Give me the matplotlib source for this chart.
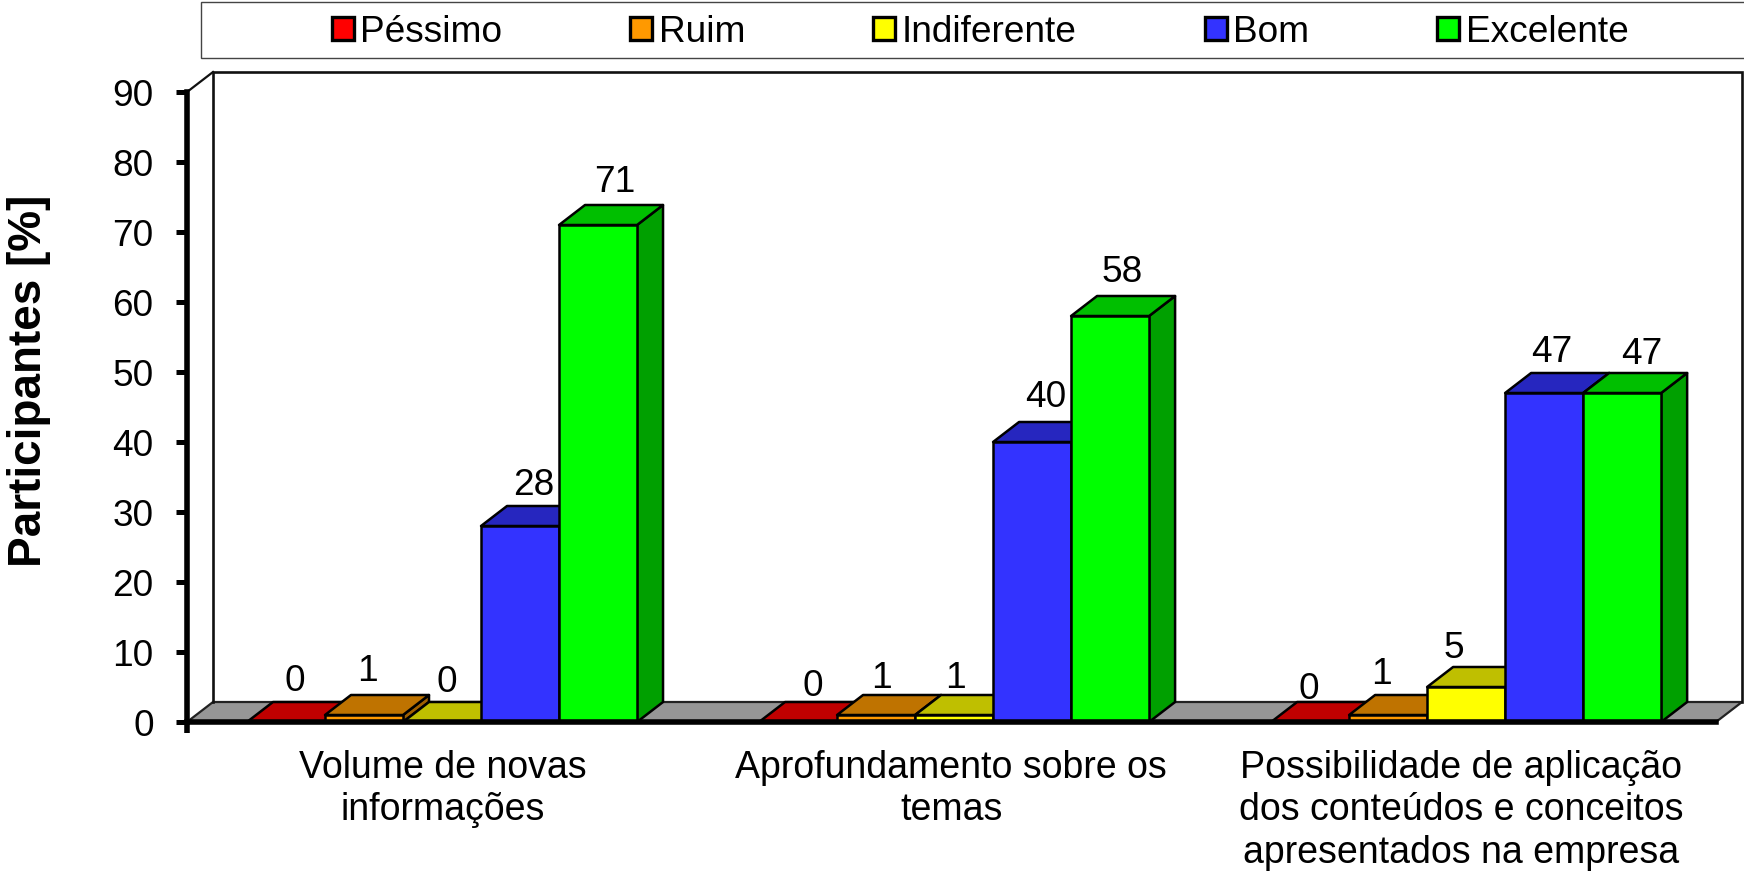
import matplotlib
matplotlib.use("Agg")
import matplotlib.pyplot as plt
from matplotlib.patches import Polygon, Patch, Rectangle
from matplotlib.transforms import ScaledTranslation

categories = ["Volume de novas\ninformações",
              "Aprofundamento sobre os\ntemas",
              "Possibilidade de aplicação\ndos conteúdos e conceitos\napresentados na empresa"]
series_names = ["Péssimo", "Ruim", "Indiferente", "Bom", "Excelente"]
pessimo = [0, 0, 0]
ruim = [1, 1, 1]
indiferente = [0, 1, 5]
bom = [28, 40, 47]
excelente = [71, 58, 47]
y_ticks = [0, 10, 20, 30, 40, 50, 60, 70, 80, 90]
y_label = "Participantes [%]"

# Styles
front_cols = ["#FF0000", "#FF9900", "#FFFF00", "#3333FF", "#00FF00"]
top_cols = ["#C00000", "#BF7300", "#BFBF00", "#2626BF", "#00BF00"]
side_cols = ["#A00000", "#A06000", "#A0A000", "#2020A0", "#00A000"]
label_shift_x = [[-4, -10, -8, 1, 4], [2, -8, -12, 1, -1], [-14, -20, -25, -5, 7]]
label_shift_y = [[-2, 1, -3, -2, 0], [-7, -6, -6, 2, 1], [-10, -2, -4, -2, -4]]
category_shift_x = [1, -2.7, -5]

FW, FH = 1744, 871
plt.rcParams["font.family"] = ["Liberation Sans", "DejaVu Sans"]
FS = 26.64
PX = 0.72

fig = plt.figure(figsize=(FW / 100, FH / 100), dpi=100, facecolor="white")
ax = fig.add_axes([187 / FW, (FH - 722) / FH, 1529 / FW, 630 / FH])
ax.set_facecolor("none")
ax.set_xlim(-0.498, 2.488)
ax.set_ylim(0, 90)

bar_w = 78 / 512
dx = 26 / 512
dy = 20 / 7
x_left, x_right = ax.get_xlim()
y_max = ax.get_ylim()[1]

def poly(pts, fc, z, lw=1.8, ec="black"):
    ax.add_patch(Polygon(pts, closed=True, facecolor=fc, edgecolor=ec, linewidth=lw,
                         joinstyle="round", clip_on=False, zorder=z))

# floor and back wall
poly([(x_left, 0), (x_right, 0), (x_right + dx, dy), (x_left + dx, dy)], "#969696", 1, lw=1.6, ec="#222222")
ax.plot([x_left + dx, x_left + dx, x_right + dx, x_right + dx], [dy, y_max + dy, y_max + dy, dy],
        color="#111111", lw=1.9, clip_on=False, zorder=1, solid_joinstyle="miter")
ax.plot([x_left, x_left + dx], [y_max, y_max + dy], color="#111111", lw=1.6, clip_on=False, zorder=1)

rows = [pessimo, ruim, indiferente, bom, excelente]
z = 2
for g in range(len(categories)):
    for s, vals in enumerate(rows):
        v = vals[g]
        x0 = g - 2.5 * bar_w + s * bar_w
        x1 = x0 + bar_w
        poly([(x1, 0), (x1 + dx, dy), (x1 + dx, v + dy), (x1, v)], side_cols[s], z)
        poly([(x0, v), (x1, v), (x1 + dx, v + dy), (x0 + dx, v + dy)], top_cols[s], z)
        if v > 0:
            poly([(x0, 0), (x1, 0), (x1, v), (x0, v)], front_cols[s], z)
        z += 1
        ax.annotate(str(v), xy=((x0 + x1 + dx) / 2, v + dy),
                    xytext=(label_shift_x[g][s] * PX, (5 + label_shift_y[g][s]) * PX),
                    textcoords="offset points", ha="center", va="bottom", fontsize=FS,
                    color="black", zorder=100)

# axes
for sp in ["top", "right"]:
    ax.spines[sp].set_visible(False)
for sp in ["left", "bottom"]:
    ax.spines[sp].set_linewidth(4.0)
    ax.spines[sp].set_zorder(90)
ax.plot([x_left, x_left], [0, -1.6], color="black", lw=4.0, clip_on=False, zorder=90, solid_capstyle="butt")
ax.set_yticks(y_ticks)
ax.set_yticklabels([str(t) for t in y_ticks], fontsize=FS)
ax.tick_params(axis="y", length=8, width=3.6, pad=16, colors="black")
ax.set_xticks(range(len(categories)))
ax.set_xticklabels(categories, fontsize=27, linespacing=1.23, ha="center", va="top")
ax.tick_params(axis="x", length=0, pad=20)
for lbl, shift in zip(ax.get_xticklabels(), category_shift_x):
    lbl.set_multialignment("center")
    lbl.set_transform(lbl.get_transform() + ScaledTranslation(shift / 100, 0, fig.dpi_scale_trans))

fig.text(29.5 / FW, 1 - 381 / FH, y_label, rotation=90, ha="center", va="center",
         fontsize=33, fontweight="bold")

# legend
fig.add_artist(Rectangle((200.5 / FW, 1 - 58 / FH), 1600 / FW, 56 / FH, transform=fig.transFigure,
                         facecolor="white", edgecolor="#444444", linewidth=1.0))
handles = [Patch(facecolor=c, edgecolor="black", linewidth=2.4) for c in front_cols]
leg = fig.legend(handles, series_names, ncol=5, frameon=False, fontsize=FS,
                 loc="center", bbox_to_anchor=(980 / FW, 1 - 32 / FH),
                 handlelength=0.6, handleheight=0.6, handletextpad=0.17, columnspacing=3.46,
                 borderpad=0, borderaxespad=0)

fig.savefig("out.png", dpi=100)
